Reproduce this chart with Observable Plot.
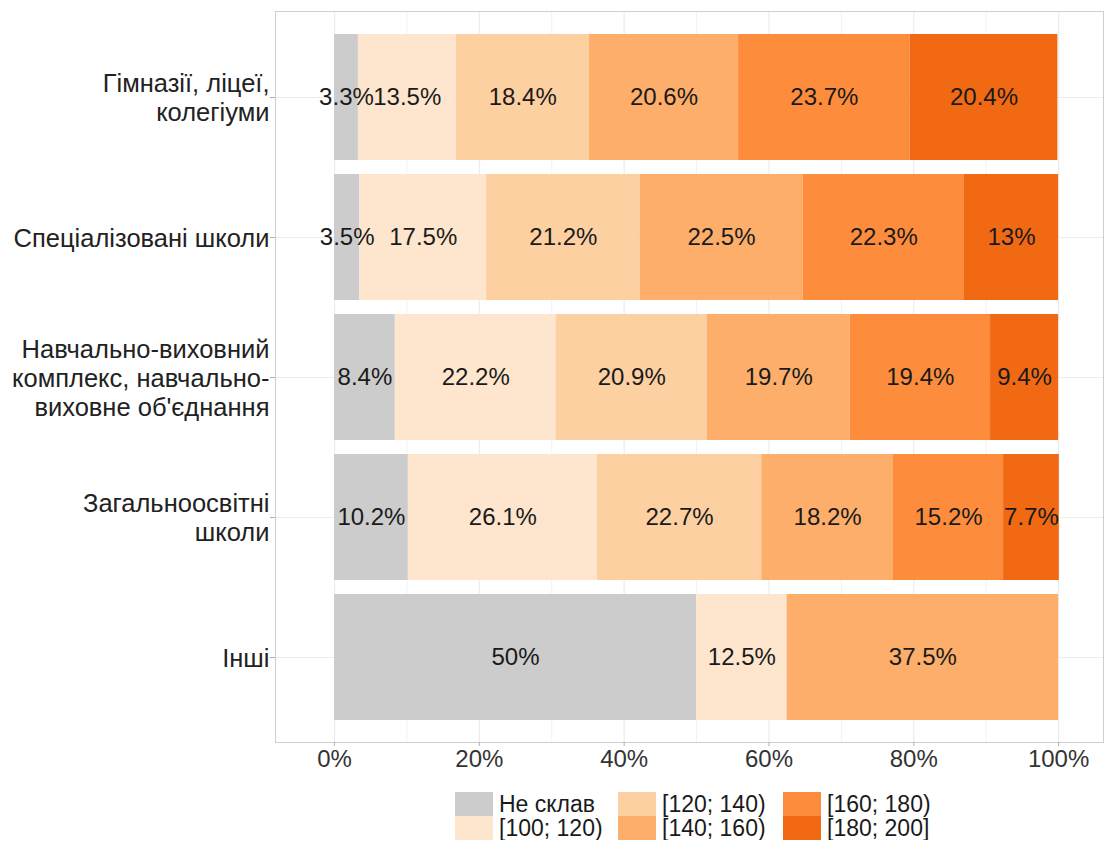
<!DOCTYPE html>
<html>
<head>
<meta charset="utf-8">
<script src="https://cdn.jsdelivr.net/npm/d3@7"></script>
<script src="https://cdn.jsdelivr.net/npm/@observablehq/plot@0.6"></script>
<style>
  body { margin: 0; background: #fff; font-family: "Liberation Sans", Arial, sans-serif; }
  #chart svg { display: block; }
  .legend { display: grid; grid-template-rows: 24px 24px; grid-auto-flow: column; grid-template-columns: 163px 165px auto;
            margin-left: 455px; margin-top: 12px; width: 520px; }
  .item { display: flex; align-items: center; height: 24px; font-size: 23px; line-height: 24px; color: #1a1a1a; white-space: nowrap; }
  .sw { width: 38px; height: 24px; margin-right: 6px; flex: none; }
</style>
</head>
<body>
<div id="chart"></div>
<div class="legend" id="legend"></div>
<script>
const categories = [
  "Гімназії, ліцеї,\nколегіуми",
  "Спеціалізовані школи",
  "Навчально-виховний\nкомплекс, навчально-\nвиховне об'єднання",
  "Загальноосвітні\nшколи",
  "Інші"
];
const bins = ["Не склав", "[100; 120)", "[120; 140)", "[140; 160)", "[160; 180)", "[180; 200]"];
const colors = ["#CCCCCC", "#FEE6CE", "#FDD0A2", "#FDAE6B", "#FD8D3C", "#F16913"];
const gymnasium   = [3.3, 13.5, 18.4, 20.6, 23.7, 20.4];
const specialized = [3.5, 17.5, 21.2, 22.5, 22.3, 13];
const complexes   = [8.4, 22.2, 20.9, 19.7, 19.4, 9.4];
const general     = [10.2, 26.1, 22.7, 18.2, 15.2, 7.7];
const others      = [50, 12.5, 0, 37.5, 0, 0];
const seriesValues = [gymnasium, specialized, complexes, general, others];
const xTicks = [0, 20, 40, 60, 80, 100];

const rows = categories.flatMap((c, i) => bins.map((b, j) => ({category: c, bin: b, value: seriesValues[i][j]})));

const plot = Plot.plot({
  width: 1105,
  height: 780,
  marginLeft: 275,
  marginRight: 2,
  marginTop: 11,
  marginBottom: 38,
  style: {fontFamily: "'Liberation Sans', Arial, sans-serif", fontSize: "24px", color: "#333", background: "#fff"},
  x: {domain: [-8.15, 106.2]},
  y: {domain: categories, paddingInner: 0.1, paddingOuter: 0.15},
  color: {domain: bins, range: colors},
  marks: [
    Plot.gridX([10, 30, 50, 70, 90], {stroke: "#f2f2f2", strokeOpacity: 1, strokeWidth: 1}),
    Plot.gridX(xTicks, {stroke: "#ececec", strokeOpacity: 1, strokeWidth: 1.2}),
    Plot.gridY(categories, {stroke: "#ececec", strokeOpacity: 1, strokeWidth: 1.2}),
    Plot.barX(rows, {x: "value", y: "category", fill: "bin"}),
    Plot.textX(rows, Plot.stackX({x: "value", y: "category", filter: d => d.value > 0, text: d => d.value + "%", fontSize: 24, fill: "#1a1a1a"})),
    Plot.frame({stroke: "#cfcfcf"}),
    Plot.axisX(xTicks, {tickFormat: d => d + "%", tickSize: 4, tickPadding: 3, stroke: "#b0b0b0", fill: "#333", fontSize: 24, label: null}),
    Plot.axisY({tickSize: 5, tickPadding: 1, stroke: "#b0b0b0", fill: "#222", fontSize: 25.5, lineHeight: 1.14, label: null})
  ]
});
document.getElementById("chart").appendChild(plot);

const legend = document.getElementById("legend");
bins.forEach((b, i) => {
  const item = document.createElement("div");
  item.className = "item";
  const sw = document.createElement("span");
  sw.className = "sw";
  sw.style.background = colors[i];
  item.appendChild(sw);
  item.appendChild(document.createTextNode(b));
  legend.appendChild(item);
});
</script>
</body>
</html>
